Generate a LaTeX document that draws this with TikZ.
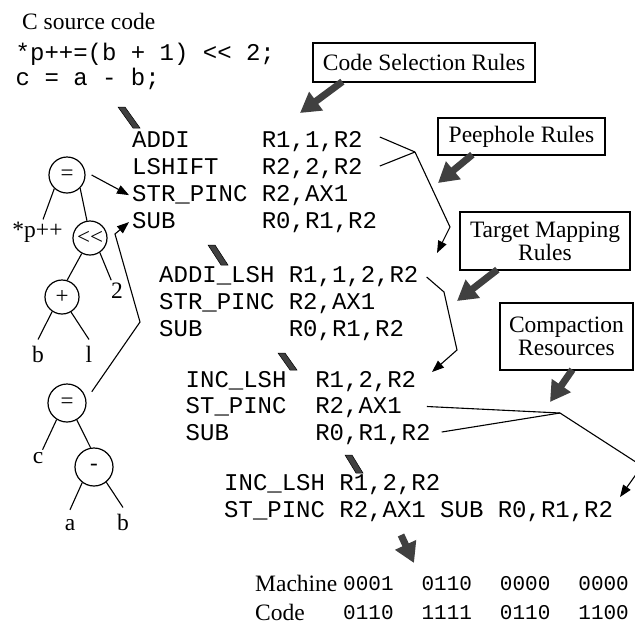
\documentclass[tikz,border=0pt]{standalone}
\usepackage{fontspec}
\setmainfont{Liberation Serif}
\setmonofont{Liberation Mono}
\usetikzlibrary{arrows.meta,calc}

\newcommand{\gap}{\hspace{28pt}}

\begin{document}
\begin{tikzpicture}[x=1pt,y=-1pt,
  serif/.style={font=\fontsize{23.5}{23}\selectfont, inner sep=0pt, anchor=base west},
  code/.style={font=\ttfamily\fontsize{24}{27}\selectfont, anchor=base west, inner sep=0pt},
  bits/.style={font=\ttfamily\fontsize{21}{24}\selectfont, anchor=base west, inner sep=0pt},
  leaf/.style={font=\fontsize{23.5}{23}\selectfont, inner sep=2pt, anchor=base},
  opnode/.style={draw, circle, line width=1.2pt, minimum size=36pt, inner sep=0pt,
                 font=\fontsize{23}{23}\selectfont},
  rulebox/.style={draw, line width=1.3pt, inner sep=0pt, align=center,
                  font=\fontsize{23.5}{23}\selectfont},
  link/.style={line width=1.1pt},
  thinarrow/.style={line width=1.1pt, -{Triangle[length=12pt,width=9pt]}},
  fatarrow/.style={line width=7pt, draw=black!75, -{Triangle[length=20pt,width=22pt]}},
  bar/.style={fill=black!75, draw=black, line width=0.5pt}
]
\useasboundingbox (0,0) rectangle (635,625);
\fill[white] (0,0) rectangle (635,625);

% source program
\node[serif] (title) at (22,29) {C source code};
\node[code] (src1) at (15.5,60) {*p++=(b + 1) <{}< 2;};
\node[code] (src2) at (15.5,85.5) {c = a - b;};

% expression trees
\node[opnode] (eq1) at (67,175) {=};
\node[opnode, minimum size=34pt] (shl) at (90,238) {<{}<};
\node[opnode, minimum size=34pt] (plus) at (62,297) {+};
\node[opnode, minimum size=38pt] (eq2) at (67,403) {=};
\node[opnode, minimum size=38pt] (minus) at (94,467) {-};
\node[leaf] (lp) at (37.5,237) {*p++};
\node[leaf] (l2) at (117,298) {2};
\node[leaf] (lb1) at (38,362) {b};
\node[leaf] (ll) at (89,362) {l};
\node[leaf] (lc) at (38,463) {c};
\node[leaf] (la) at (70,530) {a};
\node[leaf] (lb2) at (123,530) {b};

\draw[link] (eq1.-133) -- (lp.66);
\draw[link] (eq1.-45) -- (shl.100);
\draw[link] (shl.-118) -- (plus.73);
\draw[link] (shl.-56) -- (l2.120);
\draw[link] (plus.-124) -- ([yshift=4pt]lb1.north);
\draw[link] (plus.-59) -- ([yshift=4pt]ll.north);
\draw[link] (eq2.-122) -- (lc.60);
\draw[link] (eq2.-60) -- (minus.100);
\draw[link] (minus.-127) -- ([yshift=7pt]la.north);
\draw[link] (minus.-51) -- ([yshift=4pt]lb2.north);

% selected code
\node[code] (b1a) at (132,147) {ADDI~~~~~R1,1,R2};
\node[code] (b1b) at (132,174) {LSHIFT~~~R2,2,R2};
\node[code] (b1c) at (132,201) {STR\_PINC R2,AX1};
\node[code] (b1d) at (132,228) {SUB~~~~~~R0,R1,R2};

% after peephole optimisation
\node[code] (b2a) at (159,282) {ADDI\_LSH R1,1,2,R2};
\node[code] (b2b) at (159,309) {STR\_PINC R2,AX1};
\node[code] (b2c) at (159,336) {SUB~~~~~~R0,R1,R2};

% after target mapping
\node[code] (b3a) at (185.5,387) {INC\_LSH~~R1,2,R2};
\node[code] (b3b) at (185.5,413.5) {ST\_PINC~~R2,AX1};
\node[code] (b3c) at (185.5,440) {SUB~~~~~~R0,R1,R2};

% after compaction
\node[code] (b4a) at (224,490) {INC\_LSH R1,2,R2};
\node[code] (b4b) at (224,517) {ST\_PINC R2,AX1 SUB R0,R1,R2};

% machine code
\node[serif] (mach) at (255,591) {Machine};
\node[serif] (mcode) at (255,620) {Code};
\node[bits] (bits1) at (343,590) {0001\gap 0110\gap 0000\gap 0000};
\node[bits] (bits2) at (343,619) {0110\gap 1111\gap 0110\gap 1100};

% rule sets
\node[rulebox, minimum width=222pt, minimum height=39pt] (csr) at (424,62.5) {Code Selection Rules};
\node[rulebox, minimum width=167pt, minimum height=37pt] (phr) at (521.5,136.5) {Peephole Rules};
\node[rulebox, minimum width=170pt, minimum height=58pt] (tmr) at (545,241) {Target Mapping\\Rules};
\node[rulebox, minimum width=133pt, minimum height=67pt] (cpr) at (566.5,336.5) {Compaction\\Resources};

% tree to code links
\coordinate (k1) at (140,322);
\coordinate (k2) at (115,234);
\draw[thinarrow] ([xshift=6pt]eq1.east) -- ([xshift=-3pt]b1c.west);
\draw[thinarrow] ($(eq2.25)+(7,-3)$) -- (k1) -- (k2) -- ([xshift=-3pt]b1d.west);

% instruction merging links
\coordinate (j1) at (415,152);
\coordinate (j1b) at (450,227);
\coordinate (t1) at (437,253);
\draw[link] ($(b1a.base east)+(17,-10)$) -- (j1);
\draw[link] ($(b1b.base east)+(17,-8)$) -- (j1);
\draw[thinarrow] (j1) -- (j1b) -- (t1);

\coordinate (j2a) at (444,292);
\coordinate (j2b) at (457,350);
\coordinate (t2) at (432,372);
\draw[thinarrow] ($(b2a.base east)+(8,-5)$) -- (j2a) -- (j2b) -- (t2);

\coordinate (j3) at (560,413);
\coordinate (j3b) at (642,466);
\coordinate (t3) at (620,497);
\draw[link] ($(b3b.base east)+(25,-7)$) -- (j3);
\draw[link] ($(b3c.base east)+(11,-8)$) -- (j3);
\draw[thinarrow] (j3) -- (j3b) -- (t3);

% rule application arrows
\coordinate (f1) at (300,113);
\coordinate (f2) at (438,183);
\coordinate (f3) at (457,301);
\coordinate (f4) at (550,402);
\draw[fatarrow] ($(csr.south west)+(30,-1)$) -- (f1);
\draw[fatarrow] ($(phr.south west)+(35,-1)$) -- (f2);
\draw[fatarrow] ($(tmr.south west)+(38,-1)$) -- (f3);
\draw[fatarrow] ($(cpr.south west)+(73,-1)$) -- (f4);
\coordinate (g1) at (401,535);
\coordinate (g2) at (414,563);
\draw[fatarrow] (g1) -- (g2);

% transformation step marks
\filldraw[bar] (118,107) -- (125,107) -- (140,128) -- (133,128) -- cycle;
\filldraw[bar] (208,245) -- (215,245) -- (228,265) -- (221,265) -- cycle;
\filldraw[bar] (278,353) -- (285,353) -- (297,370) -- (290,370) -- cycle;
\filldraw[bar] (345,455) -- (352,455) -- (363,473) -- (356,473) -- cycle;
\end{tikzpicture}
\end{document}
